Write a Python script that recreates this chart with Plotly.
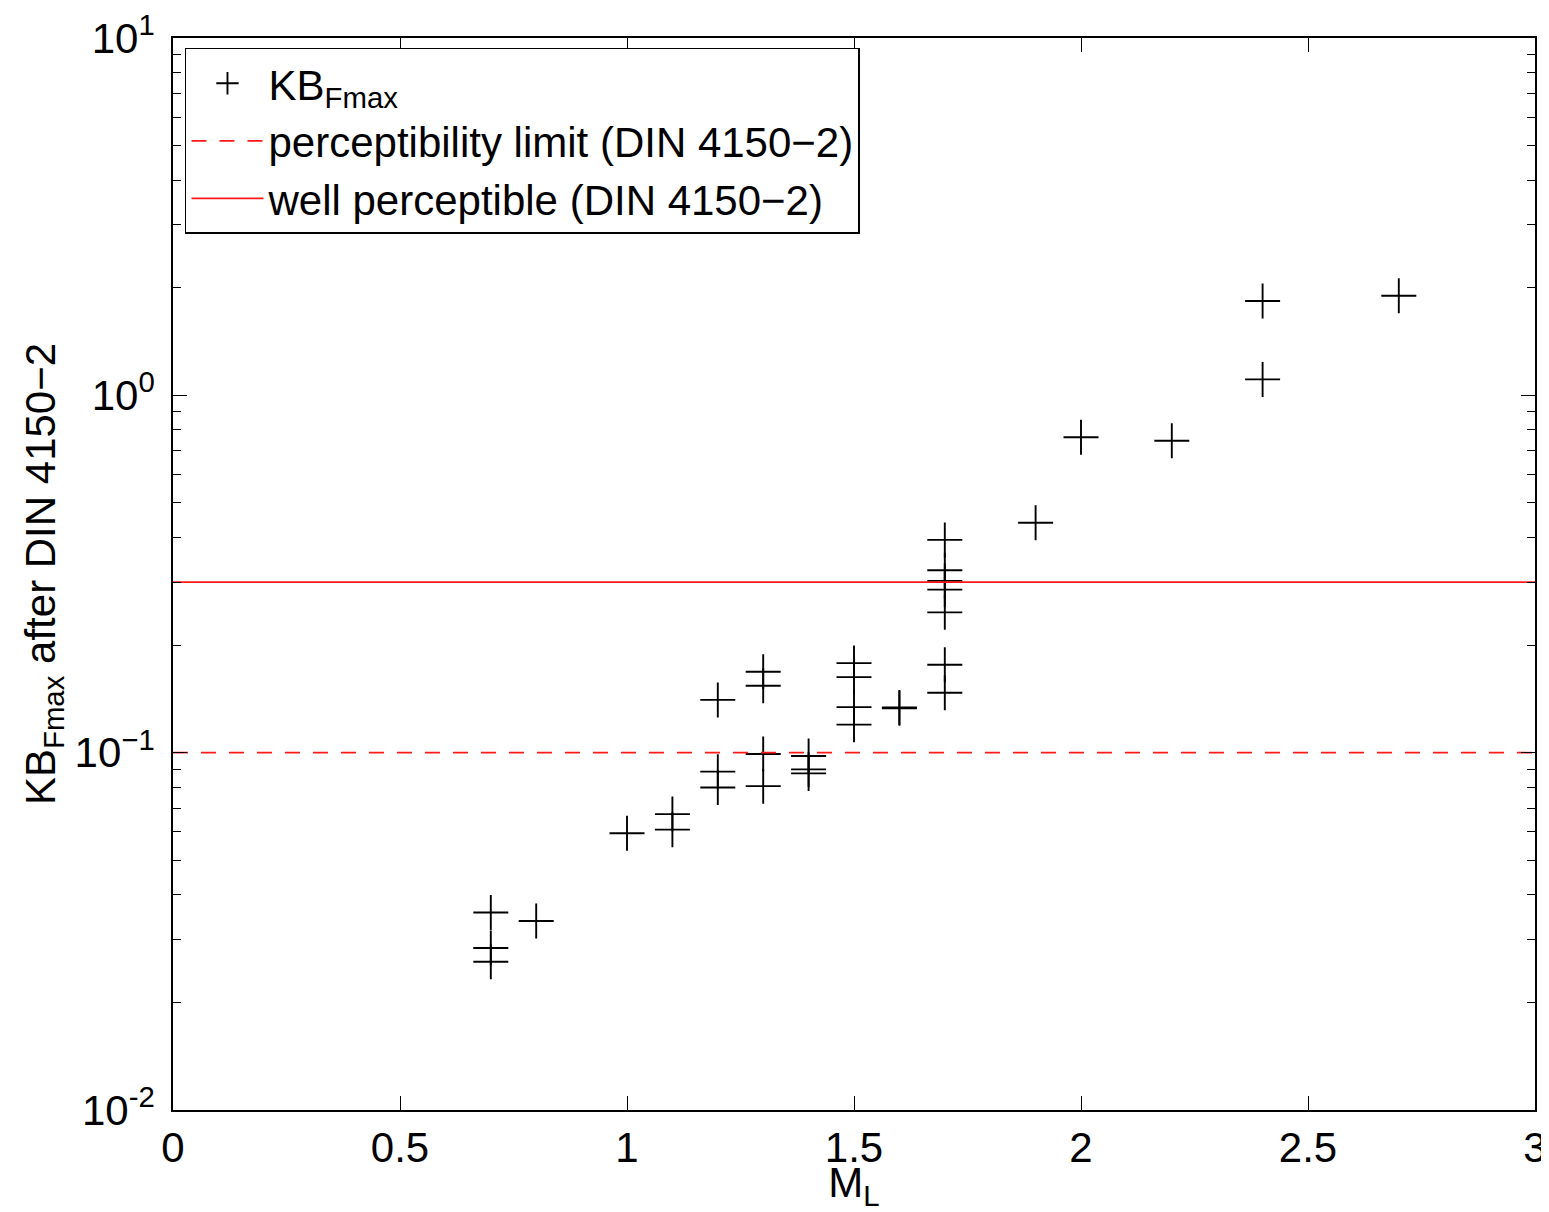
import plotly.graph_objects as go

# ---- data ----
ml = [0.7, 0.7, 0.7, 0.8,
      1.0,
      1.1, 1.1,
      1.2, 1.2, 1.2,
      1.3, 1.3, 1.3, 1.3,
      1.4, 1.4, 1.4,
      1.5, 1.5, 1.5, 1.5,
      1.6, 1.6,
      1.7, 1.7, 1.7, 1.7, 1.7, 1.7, 1.7,
      1.9, 2.0, 2.2, 2.4, 2.4, 2.7]
kb = [0.0357, 0.0284, 0.0260, 0.0338,
      0.0595,
      0.0673, 0.0609,
      0.1405, 0.0885, 0.0799,
      0.1684, 0.1539, 0.0991, 0.0806,
      0.0979, 0.0898, 0.0875,
      0.1781, 0.1627, 0.1341, 0.1198,
      0.1332, 0.1338,
      0.394, 0.324, 0.3026, 0.286, 0.247, 0.1762, 0.1471,
      0.440, 0.763, 0.746, 1.836, 1.108, 1.90]

x_limits = [0, 3]
perceptibility_limit = 0.1
well_perceptible = 0.3

x_ticks = [0, 0.5, 1, 1.5, 2, 2.5, 3]
x_ticktext = ["0", "0.5", "1", "1.5", "2", "2.5", "3"]
y_major = [0.01, 0.1, 1, 10]
y_ticktext = ["10<sup>-2</sup>", "10<sup>−1</sup>", "10<sup>0</sup>", "10<sup>1</sup>"]
y_minor = [m * d for d in [0.01, 0.1, 1] for m in range(2, 10)]

FONT = "Liberation Sans, Arial, sans-serif"
FS = 42

fig = go.Figure()
fig.add_trace(go.Scatter(
    x=ml, y=kb, mode="markers", name="KB<sub>Fmax</sub>",
    marker=dict(symbol="cross-thin", size=25, color="black",
                line=dict(color="black", width=1.9)),
))
fig.add_trace(go.Scatter(
    x=x_limits, y=[perceptibility_limit] * 2, mode="lines",
    name="perceptibility limit (DIN 4150−2)",
    line=dict(color="#ff1a1a", width=1.7, dash="15px,13px"),
))
fig.add_trace(go.Scatter(
    x=x_limits, y=[well_perceptible] * 2, mode="lines",
    name="well perceptible (DIN 4150−2)",
    line=dict(color="#ff1a1a", width=1.7),
))

axis_common = dict(
    showgrid=False, zeroline=False, showline=True, linecolor="black",
    linewidth=1.5, mirror="ticks", ticks="inside", tickcolor="black",
    tickwidth=1.2, ticklen=14, automargin=False,
    tickfont=dict(family=FONT, size=FS, color="black"),
)

fig.update_xaxes(
    range=x_limits, tickvals=x_ticks, ticktext=x_ticktext,
    title=dict(text="M<sub>L</sub>", font=dict(family=FONT, size=FS, color="black"),
               standoff=0),
    **axis_common,
)
fig.update_yaxes(
    type="log", range=[-2, 1], tickvals=y_major, ticktext=y_ticktext,
    ticklabelstandoff=8,
    minor=dict(tickvals=y_minor, ticks="inside", ticklen=8,
               tickcolor="black", tickwidth=1.2),
    title=dict(text="KB<sub>Fmax</sub> after DIN 4150−2",
               font=dict(family=FONT, size=FS, color="black"), standoff=6),
    **axis_common,
)

# page body has an 8 px margin, so the figure is 8 px smaller on each side
fig.update_layout(
    width=1541, height=1204,
    margin=dict(l=165, r=14, t=30, b=102),
    paper_bgcolor="white", plot_bgcolor="white",
    font=dict(family=FONT, size=FS, color="black"),
    showlegend=True,
    legend=dict(
        x=0.0088, y=0.9907, xanchor="left", yanchor="top",
        bgcolor="white", bordercolor="black", borderwidth=1.5,
        font=dict(family=FONT, size=FS, color="black"),
        tracegroupgap=0, itemsizing="trace", itemwidth=72,
    ),
)

fig.write_html("out.html")
